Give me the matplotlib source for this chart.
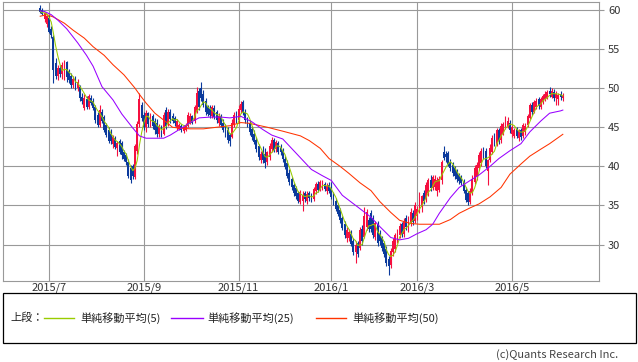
import matplotlib
matplotlib.use("Agg")
import matplotlib.pyplot as plt
from matplotlib.patches import Rectangle
from matplotlib.lines import Line2D
import numpy as np
import pandas as pd

plt.rcParams['font.family'] = ['Noto Sans CJK JP', 'DejaVu Sans']

# ---------------- data ----------------
start_date = "2015-06-25"
end_date = "2016-06-03"
market_holidays = ["2015-07-03", "2015-09-07", "2015-11-26", "2015-12-25", "2016-01-01",
                   "2016-01-18", "2016-02-15", "2016-03-25", "2016-05-30"]

opens = [60.3, 60.0, 58.8, 58.2, 59.0, 57.6, 56.5, 53.2, 51.6, 52.6,
         51.8, 51.5, 53.3, 52.2, 51.6, 50.4, 51.3, 50.0, 50.2, 48.9,
         47.5, 48.6, 47.6, 48.8, 48.4, 47.6, 46.6, 45.3, 47.0, 46.3,
         45.3, 44.6, 44.2, 42.8, 43.6, 42.3, 43.2, 43.0, 41.8, 41.4,
         40.6, 39.8, 40.0, 38.6, 42.0, 45.4, 47.8, 46.6, 45.0, 46.8,
         45.4, 46.4, 45.8, 45.5, 44.2, 45.0, 44.2, 47.2, 45.6, 46.9,
         46.5, 46.2, 44.9, 44.8, 45.2, 44.5, 44.7, 45.2, 45.6, 46.4,
         45.8, 47.0, 49.6, 50.0, 49.2, 48.4, 47.6, 47.4, 46.4, 47.5,
         46.9, 45.6, 46.4, 45.6, 45.1, 44.6, 44.0, 43.8, 45.3, 46.8,
         45.9, 47.2, 48.2, 47.0, 46.0, 45.5, 44.8, 44.2, 43.4, 42.6,
         40.8, 41.8, 41.6, 40.6, 41.2, 42.2, 43.4, 42.2, 43.0, 42.4,
         42.0, 41.0, 40.4, 39.2, 38.4, 37.6, 37.2, 36.6, 35.5, 35.6,
         36.6, 35.6, 36.6, 36.3, 35.8, 36.8, 37.8, 37.0, 37.3, 37.8,
         36.8, 37.6, 37.2, 36.4, 35.6, 35.0, 34.4, 33.4, 32.6, 30.8,
         30.8, 31.4, 30.4, 29.0, 30.2, 29.6, 32.0, 31.0, 32.2, 33.2,
         34.0, 33.4, 31.0, 32.6, 31.4, 30.8, 30.2, 29.4, 28.2, 27.4,
         29.0, 29.4, 30.6, 31.2, 32.6, 31.4, 33.4, 32.0, 32.6, 34.0,
         33.0, 33.6, 34.2, 34.8, 36.6, 35.8, 36.6, 38.2, 37.2, 37.4,
         36.8, 37.0, 38.2, 41.8, 41.6, 41.7, 40.6, 40.2, 39.8, 39.4,
         38.9, 38.6, 38.0, 37.0, 36.6, 35.5, 36.6, 38.0, 38.6, 39.8,
         40.4, 42.2, 42.0, 39.4, 40.8, 41.8, 44.0, 42.8, 44.6, 43.4,
         44.2, 45.0, 45.2, 45.6, 44.2, 43.9, 44.8, 43.6, 44.6, 43.9,
         44.4, 45.3, 46.2, 47.9, 47.0, 47.6, 48.6, 47.6, 48.2, 48.6,
         48.8, 49.6, 48.9, 49.5, 48.8, 48.6, 49.3, 48.7]

highs = [60.6, 60.3, 59.8, 59.4, 59.3, 58.0, 56.8, 53.8, 53.0, 53.0,
         53.4, 53.6, 53.5, 52.5, 52.0, 51.6, 51.5, 51.2, 50.4, 49.4,
         49.2, 49.0, 49.3, 49.1, 48.7, 47.9, 47.0, 47.8, 47.3, 46.6,
         45.6, 45.0, 44.8, 44.0, 43.9, 43.3, 43.5, 43.3, 42.1, 41.7,
         40.9, 40.2, 40.3, 42.8, 45.8, 49.4, 48.2, 47.0, 47.2, 47.0,
         46.8, 46.7, 46.2, 46.0, 45.4, 45.3, 47.0, 47.6, 47.4, 47.3,
         46.8, 46.5, 46.0, 45.6, 45.4, 45.2, 45.6, 47.0, 46.8, 46.6,
         47.8, 50.2, 50.0, 50.8, 49.8, 48.7, 47.9, 47.8, 47.9, 47.8,
         47.2, 46.8, 46.7, 46.0, 45.4, 45.0, 44.3, 46.0, 46.9, 47.1,
         47.8, 48.4, 48.5, 47.3, 46.3, 45.9, 45.2, 44.6, 43.7, 42.9,
         42.0, 42.6, 42.4, 42.0, 43.0, 43.8, 43.6, 43.4, 43.3, 42.8,
         42.4, 41.3, 40.8, 39.6, 38.7, 37.9, 37.5, 36.9, 37.0, 36.8,
         36.9, 36.8, 36.9, 36.6, 37.4, 38.0, 38.1, 38.3, 38.2, 38.0,
         37.9, 38.0, 38.0, 36.7, 35.9, 35.3, 34.7, 33.7, 33.0, 32.2,
         32.0, 31.8, 30.8, 30.4, 30.5, 32.2, 32.5, 34.8, 34.6, 33.5,
         34.4, 33.8, 33.0, 33.0, 31.8, 31.1, 30.5, 29.8, 28.6, 29.6,
         30.8, 31.5, 32.0, 32.8, 32.9, 33.4, 33.8, 33.6, 34.7, 34.4,
         35.4, 34.9, 36.7, 36.4, 37.0, 38.0, 38.5, 38.9, 38.9, 38.9,
         38.6, 38.8, 40.8, 42.6, 42.0, 42.0, 41.0, 40.6, 40.1, 39.7,
         39.2, 38.9, 38.4, 37.4, 36.9, 37.2, 38.9, 40.2, 40.6, 41.8,
         42.4, 42.5, 42.4, 41.0, 42.8, 44.0, 44.3, 44.9, 44.9, 45.6,
         45.7, 46.4, 46.3, 45.9, 45.3, 44.9, 45.0, 44.8, 44.9, 45.6,
         45.5, 46.7, 48.1, 48.2, 48.5, 48.7, 48.9, 48.9, 49.3, 49.6,
         49.8, 50.2, 50.0, 49.9, 49.6, 49.4, 49.6, 49.4]

lows = [59.6, 59.3, 58.4, 57.8, 57.0, 56.4, 50.7, 51.2, 51.0, 51.4,
        51.2, 51.0, 50.8, 50.6, 50.0, 50.0, 49.8, 49.7, 48.4, 48.0,
        47.2, 47.3, 47.4, 47.8, 47.2, 45.6, 45.0, 45.0, 45.5, 44.4,
        43.8, 43.0, 42.8, 42.4, 42.2, 41.3, 41.6, 41.0, 40.7, 40.2,
        38.5, 37.9, 38.4, 38.4, 41.6, 45.0, 45.8, 44.6, 44.4, 45.0,
        45.0, 44.8, 44.2, 43.8, 43.8, 43.8, 44.0, 44.8, 45.2, 45.6,
        45.6, 45.2, 44.6, 44.6, 44.4, 44.3, 44.5, 45.0, 45.4, 45.4,
        45.6, 46.8, 47.2, 48.4, 47.6, 46.6, 46.4, 46.2, 46.2, 46.0,
        45.6, 45.2, 45.0, 44.4, 43.8, 43.0, 42.6, 43.6, 45.0, 45.6,
        45.6, 46.8, 46.6, 45.6, 45.0, 44.0, 43.4, 42.8, 41.8, 40.8,
        40.4, 40.4, 39.8, 40.2, 40.8, 41.8, 41.8, 41.8, 41.6, 41.5,
        40.6, 39.6, 38.5, 37.6, 37.0, 36.2, 35.8, 35.3, 35.2, 34.3,
        35.4, 35.2, 35.6, 35.4, 35.6, 36.5, 36.7, 36.8, 37.0, 36.8,
        36.5, 36.6, 35.8, 35.0, 34.3, 33.6, 32.8, 31.8, 30.8, 30.3,
        30.4, 29.8, 28.7, 27.6, 28.4, 29.3, 29.9, 30.8, 31.8, 31.6,
        31.6, 30.8, 30.6, 29.8, 30.0, 29.2, 28.4, 27.2, 26.1, 27.0,
        28.6, 29.0, 30.2, 30.8, 31.0, 31.0, 31.8, 31.6, 32.4, 32.5,
        32.8, 33.1, 34.0, 34.2, 35.2, 35.4, 36.2, 36.8, 37.0, 37.0,
        36.2, 36.7, 37.8, 40.8, 40.6, 40.0, 39.4, 38.8, 38.4, 38.0,
        37.8, 37.6, 36.6, 35.4, 35.1, 35.2, 36.3, 37.8, 38.2, 39.5,
        40.0, 41.0, 39.8, 37.6, 40.6, 41.6, 42.6, 42.6, 42.8, 43.0,
        44.0, 44.8, 44.9, 44.3, 43.8, 43.6, 43.6, 43.3, 43.4, 43.6,
        44.0, 45.0, 46.0, 46.6, 46.8, 47.4, 47.4, 47.4, 48.0, 48.4,
        48.6, 48.9, 48.7, 48.4, 47.8, 47.9, 48.5, 48.4]

closes = [59.8, 59.5, 59.6, 59.2, 57.2, 56.8, 52.3, 51.6, 52.6, 51.8,
          52.9, 53.2, 51.4, 51.0, 50.4, 51.2, 50.0, 50.8, 48.7, 48.3,
          48.8, 47.6, 49.0, 48.1, 47.5, 45.9, 45.3, 47.2, 45.8, 44.7,
          44.0, 43.3, 43.2, 43.8, 42.5, 43.0, 41.9, 41.4, 41.0, 40.5,
          38.8, 38.2, 38.8, 42.6, 45.4, 48.6, 46.2, 45.0, 46.8, 45.4,
          46.4, 45.2, 44.6, 44.2, 45.0, 44.2, 46.6, 45.2, 47.0, 46.0,
          45.8, 45.5, 45.8, 45.3, 44.6, 45.0, 45.3, 46.6, 46.4, 45.6,
          47.6, 49.4, 47.6, 48.8, 47.9, 47.0, 46.7, 46.6, 47.6, 46.3,
          45.9, 46.5, 45.3, 44.7, 44.0, 43.4, 43.2, 45.6, 46.6, 46.0,
          47.4, 48.0, 46.9, 45.9, 45.3, 44.4, 43.8, 43.1, 42.2, 41.2,
          41.6, 40.8, 40.4, 41.8, 42.6, 43.4, 42.1, 43.1, 41.9, 41.8,
          40.9, 39.9, 38.8, 38.0, 37.3, 36.6, 36.2, 35.6, 36.7, 36.4,
          35.8, 36.5, 35.9, 35.7, 37.1, 37.8, 37.0, 38.0, 37.9, 37.1,
          37.5, 36.9, 36.1, 35.3, 34.6, 33.9, 33.1, 32.1, 31.2, 31.8,
          31.6, 30.1, 29.0, 30.0, 28.8, 31.8, 30.4, 33.6, 34.2, 32.0,
          32.0, 31.2, 32.8, 30.2, 30.4, 29.6, 28.8, 27.6, 27.2, 29.2,
          30.4, 31.2, 31.6, 32.4, 31.4, 33.0, 32.2, 33.2, 34.2, 32.9,
          35.0, 34.6, 36.0, 36.2, 35.6, 37.6, 38.2, 37.2, 38.6, 38.4,
          38.2, 38.4, 40.6, 41.1, 41.2, 40.3, 39.8, 39.2, 38.8, 38.4,
          38.1, 37.9, 36.9, 35.7, 35.5, 36.8, 38.4, 39.8, 40.2, 41.4,
          42.0, 41.3, 40.0, 40.8, 42.4, 43.6, 42.9, 44.6, 43.2, 45.2,
          45.4, 46.0, 45.8, 44.6, 45.0, 44.6, 43.9, 44.5, 43.8, 45.3,
          45.2, 46.4, 47.8, 47.0, 48.2, 48.4, 47.7, 48.6, 49.0, 49.2,
          49.5, 49.2, 49.7, 48.8, 49.3, 49.1, 48.9, 49.0]

# 25-day and 50-day simple moving averages (trading-day index, value)
ma25_day = [0, 2, 5, 8, 12, 17, 21, 24, 28, 33, 37, 42, 45, 48, 52, 56, 59, 63, 68, 72,
            77, 82, 86, 91, 96, 101, 105, 110, 114, 119, 123, 128, 132, 137, 144, 150, 154,
            159, 163, 167, 171, 175, 178, 181, 186, 190, 195, 199, 204, 208, 213, 218, 222,
            227, 231, 236, 237]
ma25_val = [59.9, 59.8, 59.4, 58.7, 57.6, 55.8, 54.2, 52.8, 50.2, 48.5, 46.7, 44.9, 43.9,
            43.6, 43.6, 43.6, 44.0, 44.7, 45.6, 46.2, 46.3, 46.3, 46.2, 46.4, 45.7, 44.7,
            44.0, 43.5, 42.3, 40.8, 39.6, 38.8, 38.2, 36.3, 34.8, 33.5, 32.3, 30.9, 30.6,
            30.8, 31.4, 31.9, 32.6, 34.0, 36.0, 37.3, 38.2, 38.9, 40.0, 41.0, 42.0, 42.9,
            44.4, 45.8, 46.8, 47.1, 47.2]

ma50_day = [0, 3, 6, 11, 15, 20, 24, 29, 33, 38, 43, 45, 48, 52, 57, 60, 63, 68, 74, 80,
            86, 91, 95, 103, 110, 118, 122, 127, 131, 136, 140, 145, 150, 154, 159, 163,
            168, 172, 177, 181, 186, 190, 195, 199, 204, 209, 213, 218, 222, 227, 231,
            236, 237]
ma50_val = [59.2, 59.4, 59.1, 58.3, 57.4, 56.4, 55.3, 54.2, 53.0, 51.7, 50.0, 49.2, 48.1,
            46.8, 45.7, 45.0, 44.9, 44.8, 44.8, 45.0, 45.2, 45.6, 45.5, 45.0, 44.5, 43.9,
            43.3, 42.3, 41.0, 40.0, 39.1, 37.9, 36.9, 35.5, 34.1, 33.1, 32.7, 32.6, 32.6,
            32.6, 33.2, 34.0, 34.7, 35.2, 36.1, 37.3, 39.0, 40.3, 41.3, 42.2, 42.9, 43.9,
            44.1]

y_ticks = [30, 35, 40, 45, 50, 55, 60]
month_ticks = ["2015-07", "2015-09", "2015-11", "2016-01", "2016-03", "2016-05"]
month_labels = ["2015/7", "2015/9", "2015/11", "2016/1", "2016/3", "2016/5"]

legend_prefix = "上段："
legend_labels = ["単純移動平均(5)", "単純移動平均(25)", "単純移動平均(50)"]
copyright_text = "(c)Quants Research Inc."

# ---------------- figure ----------------
W, H = 638, 362
fig = plt.figure(figsize=(W / 100, H / 100), dpi=100)
fig.patch.set_facecolor("white")


def fx(px):
    return px / W


def fy(py):
    return 1 - py / H


ax = fig.add_axes([fx(3), fy(281), fx(599) - fx(3), fy(2) - fy(281)])

dates = pd.bdate_range(start_date, end_date, freq="C", holidays=market_holidays)
x = np.arange(len(dates))
o = np.array(opens)
h = np.array(highs)
l = np.array(lows)
c = np.array(closes)

red = "#f5103f"
blue = "#0b3a9c"
up = c >= o
cols = np.where(up, red, blue)

ax.vlines(x, l, h, colors=cols, linewidth=0.8, zorder=2)
body_lo = np.minimum(o, c)
body_h = np.maximum(np.abs(c - o), 0.08)
ax.bar(x, body_h, bottom=body_lo, width=0.85, color=cols, linewidth=0, zorder=2)

ma5 = pd.Series(c).rolling(5, min_periods=1).mean()
ax.plot(x, ma5, color="#99cc00", linewidth=0.75, zorder=4)
ax.plot(ma25_day, ma25_val, color="#9900ff", linewidth=0.75, zorder=4)
ax.plot(ma50_day, ma50_val, color="#ff3300", linewidth=0.75, zorder=3)

ax.set_xlim(-16.87, 253.4)
ax.set_ylim(25.34, 61.02)

month_pos = [int(np.argmax(dates.strftime("%Y-%m") == m)) for m in month_ticks]
ax.set_xticks(month_pos)
ax.set_xticklabels(month_labels)
ax.set_yticks(y_ticks)
ax.yaxis.tick_right()
ax.grid(True, color="#999999", linewidth=0.8)
ax.set_axisbelow(True)
ax.tick_params(axis="y", length=3.6, width=0.8, color="#999999", pad=2.8,
               labelsize=8, labelcolor="#333333")
ax.tick_params(axis="x", length=0, pad=1, labelsize=8, labelcolor="#333333")
for s in ax.spines.values():
    s.set_color("#999999")
    s.set_linewidth(0.8)

# legend box
fig.add_artist(Rectangle((fx(3), fy(343)), fx(636) - fx(3), fy(293) - fy(343),
                         transform=fig.transFigure, fill=False, edgecolor="black",
                         linewidth=0.9))
ty = fy(318)
fig.text(fx(10), ty, legend_prefix, fontsize=8, va="center", ha="left", color="#222222")
leg_cols = ["#99cc00", "#9900ff", "#ff3300"]
line_x = [(44, 74), (171, 203), (316, 346)]
text_x = [80, 207, 352]
for (x0, x1), tx, col, lab in zip(line_x, text_x, leg_cols, legend_labels):
    fig.add_artist(Line2D([fx(x0), fx(x1)], [ty, ty], transform=fig.transFigure,
                          color=col, linewidth=1.0))
    fig.text(fx(tx), ty, lab, fontsize=8, va="center", ha="left", color="#222222")

fig.text(fx(618), fy(355), copyright_text, fontsize=8, va="center", ha="right",
         color="#444444")

fig.savefig("out.png", dpi=100)
